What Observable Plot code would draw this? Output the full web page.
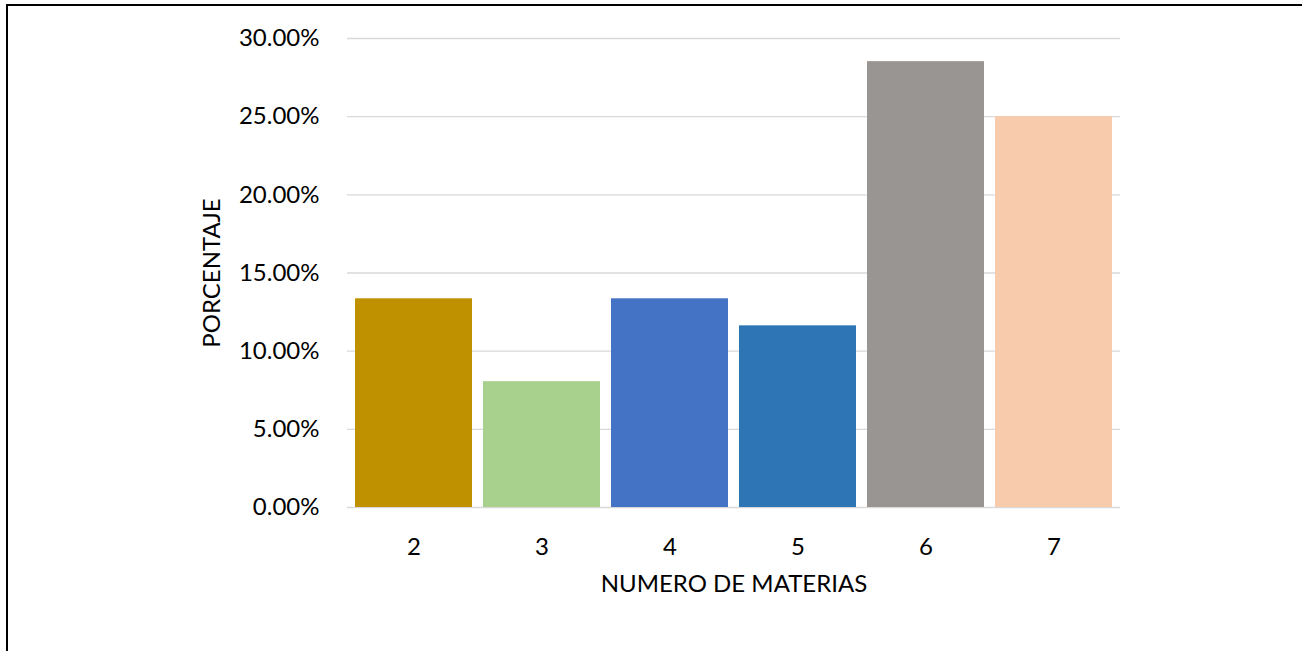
<!DOCTYPE html>
<html>
<head>
<meta charset="utf-8">
<script src="https://cdn.jsdelivr.net/npm/d3@7"></script>
<script src="https://cdn.jsdelivr.net/npm/@observablehq/plot@0.6"></script>
<style>
  html, body { margin: 0; padding: 0; background: #fff; overflow: hidden; }
  #frame { position: absolute; left: 6px; top: 4px; width: 1400px; height: 800px;
           border-left: 2.5px solid #000; border-top: 2.5px solid #000; }
  #chart { position: absolute; left: 0; top: 0; }
</style>
</head>
<body>
<div id="frame"></div>
<div id="chart"></div>
<script>
const categories = ["2", "3", "4", "5", "6", "7"];
const values = [0.1335, 0.0805, 0.1335, 0.1162, 0.2852, 0.2500];
const colors = ["#BF9000", "#A9D18E", "#4472C4", "#2E75B6", "#999593", "#F8CBAD"];
const yTicks = [0, 0.05, 0.10, 0.15, 0.20, 0.25, 0.30];

const data = categories.map((c, i) => ({materias: c, pct: values[i], color: colors[i]}));

const fmt = d3.format(".2%");
const chart = Plot.plot({
  width: 1302,
  height: 651,
  marginLeft: 347,
  marginRight: 182,
  marginTop: 38,
  marginBottom: 144,
  style: {fontFamily: "Lato, 'Open Sans', sans-serif", fontSize: "24px", color: "#000", background: "transparent"},
  x: {domain: categories, paddingInner: 0.085, paddingOuter: 0.0425},
  y: {domain: [0, 0.30]},
  marks: [
    Plot.gridY(yTicks, {stroke: "#d9d9d9", strokeOpacity: 1, strokeWidth: 1.3}),
    Plot.barY(data, {x: "materias", y: "pct", fill: "color"}),
    Plot.axisY({ticks: yTicks, tickFormat: fmt, tickSize: 0, tickPadding: 28,
                label: "PORCENTAJE", labelAnchor: "center", labelOffset: 145, labelArrow: "none"}),
    Plot.axisX({tickSize: 0, tickPadding: 30, label: "NUMERO DE MATERIAS",
                labelAnchor: "center", labelOffset: 84, labelArrow: "none"})
  ]
});
document.getElementById("chart").appendChild(chart);
</script>
</body>
</html>
